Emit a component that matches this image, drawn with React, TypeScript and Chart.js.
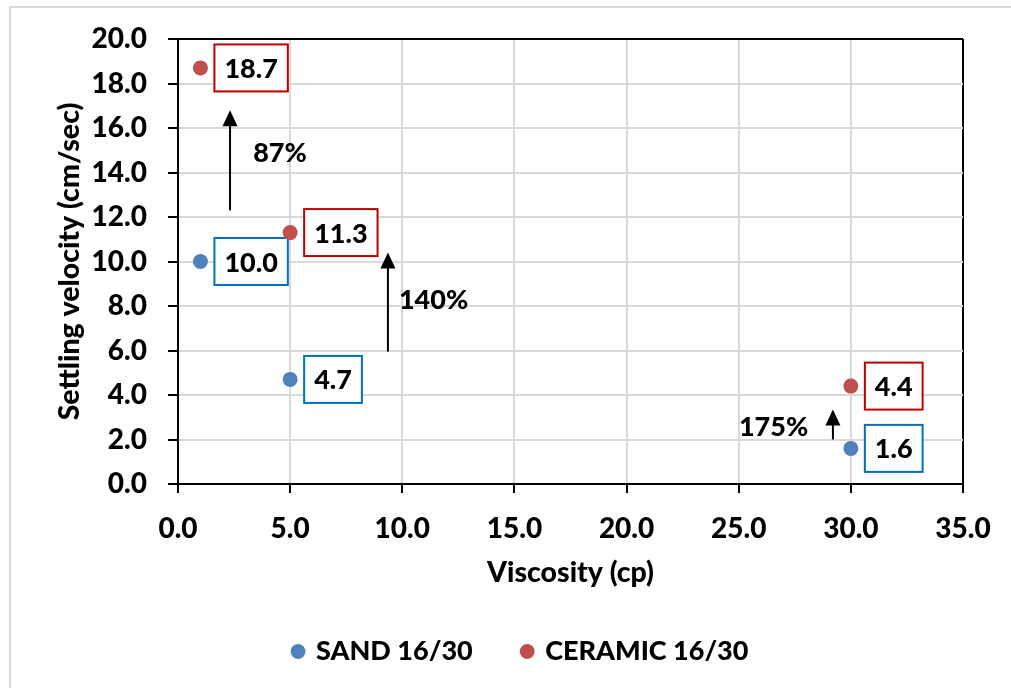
import { useEffect, useRef } from 'react';
import { Chart, registerables } from 'chart.js';

Chart.register(...registerables);

// ---- data ----
const viscosity = [1, 5, 30];
const sandVelocity = [10.0, 4.7, 1.6];
const ceramicVelocity = [18.7, 11.3, 4.4];
const seriesNames = ['SAND 16/30', 'CERAMIC 16/30'];
const xTitle = 'Viscosity (cp)';
const yTitle = 'Settling velocity (cm/sec)';

// annotation arrows (data units) and their texts
const arrowX = [2.32, 9.36, 29.2];
const arrowFrom = [12.3, 5.95, 2.0];
const arrowTo = [16.8, 10.4, 3.35];
const noteText = ['87%', '140%', '175%'];
const noteX = [3.35, 9.85, 28.1];
const noteY = [14.9, 8.3, 2.6];
const noteAlign = ['left', 'left', 'right'];

const FONT = 'Lato';
const WEIGHT = '900';
const SAND_COLOR = '#4F81BD';
const CERAMIC_COLOR = '#C0504D';
const SAND_BOX = '#0070C0';
const CERAMIC_BOX = '#C00000';

const framePlugin = {
  id: 'frame',
  beforeDraw(chart: any) {
    const ctx = chart.ctx;
    ctx.save();
    ctx.fillStyle = '#fff';
    ctx.fillRect(0, 0, chart.width, chart.height);
    ctx.strokeStyle = '#d9d9d9';
    ctx.lineWidth = 2;
    ctx.beginPath();
    ctx.moveTo(10, chart.height);
    ctx.lineTo(10, 7);
    ctx.lineTo(chart.width, 7);
    ctx.stroke();
    ctx.restore();
  },
};

const legendShift = {
  id: 'legendShift',
  afterLayout(chart: any) {
    const lg = chart.legend;
    if (lg) {
      lg.left = 79;
      lg.right = 963;
    }
  },
};

const boxLabels = {
  id: 'boxLabels',
  afterDatasetDraw(chart: any, args: any) {
    const ctx = chart.ctx;
    const meta = args.meta;
    const ds: any = chart.data.datasets[args.index];
    ctx.save();
    ctx.font = `${WEIGHT} 27px ${FONT}`;
    meta.data.forEach((pt: any, i: number) => {
      const txt = Number(ds.data[i].y).toFixed(1);
      const tw = ctx.measureText(txt).width;
      const w = tw + 20;
      const h = 47;
      const x0 = pt.x + 14;
      const y0 = pt.y - h / 2;
      ctx.fillStyle = '#fff';
      ctx.fillRect(x0, y0, w, h);
      ctx.strokeStyle = ds.labelBorder;
      ctx.lineWidth = 2;
      ctx.strokeRect(x0, y0, w, h);
      ctx.fillStyle = '#000';
      ctx.textAlign = 'center';
      ctx.textBaseline = 'alphabetic';
      ctx.fillText(txt, x0 + w / 2, pt.y + 10);
    });
    ctx.restore();
  },
};

const arrows = {
  id: 'arrows',
  afterDatasetsDraw(chart: any) {
    const ctx = chart.ctx;
    const xs = chart.scales.x;
    const ys = chart.scales.y;
    ctx.save();
    ctx.strokeStyle = '#000';
    ctx.fillStyle = '#000';
    ctx.lineWidth = 2;
    arrowX.forEach((xv, i) => {
      const x = xs.getPixelForValue(xv);
      const y1 = ys.getPixelForValue(arrowFrom[i]);
      const y2 = ys.getPixelForValue(arrowTo[i]);
      ctx.beginPath();
      ctx.moveTo(x, y1);
      ctx.lineTo(x, y2 + 12);
      ctx.stroke();
      ctx.beginPath();
      ctx.moveTo(x, y2);
      ctx.lineTo(x - 7.5, y2 + 16);
      ctx.lineTo(x + 7.5, y2 + 16);
      ctx.closePath();
      ctx.fill();
    });
    ctx.font = `${WEIGHT} 27px ${FONT}`;
    ctx.textBaseline = 'alphabetic';
    noteText.forEach((t, i) => {
      ctx.textAlign = noteAlign[i] as CanvasTextAlign;
      ctx.fillText(t, xs.getPixelForValue(noteX[i]), ys.getPixelForValue(noteY[i]) + 10);
    });
    ctx.restore();
  },
};

export default function App() {
  const ref = useRef<HTMLCanvasElement>(null);
  useEffect(() => {
    const tickFont = { family: FONT, size: 28, weight: WEIGHT as any };
    const titleFont = { family: FONT, size: 28.5, weight: WEIGHT as any, lineHeight: 0.8 };
    const legendFont = { family: FONT, size: 27, weight: WEIGHT as any };
    const chart = new Chart(ref.current as HTMLCanvasElement, {
      type: 'scatter',
      data: {
        datasets: [
          {
            label: seriesNames[0],
            data: viscosity.map((x, i) => ({ x, y: sandVelocity[i] })),
            backgroundColor: SAND_COLOR,
            borderColor: SAND_COLOR,
            borderWidth: 0,
            pointRadius: 7.5,
            pointHoverRadius: 7.5,
            order: 1,
            labelBorder: SAND_BOX,
          } as any,
          {
            label: seriesNames[1],
            data: viscosity.map((x, i) => ({ x, y: ceramicVelocity[i] })),
            backgroundColor: CERAMIC_COLOR,
            borderColor: CERAMIC_COLOR,
            borderWidth: 0,
            pointRadius: 7.5,
            pointHoverRadius: 7.5,
            order: 0,
            labelBorder: CERAMIC_BOX,
          } as any,
        ],
      },
      options: {
        responsive: false,
        animation: false,
        events: [],
        layout: { padding: { left: 9, right: 48, top: 39, bottom: 13 } },
        scales: {
          x: {
            type: 'linear',
            min: 0,
            max: 35,
            afterFit: (s: any) => {
              s.height = 104;
            },
            ticks: {
              stepSize: 5,
              autoSkip: false,
              maxRotation: 0,
              padding: 19,
              color: '#000',
              font: tickFont,
              callback: (v: any) => Number(v).toFixed(1),
            },
            grid: {
              color: (c: any) => (c.tick && c.tick.value === 35 ? '#000' : '#d9d9d9'),
              lineWidth: 2,
              tickColor: '#000',
              tickLength: 9,
              tickWidth: 2,
            },
            border: { color: '#000', width: 2 },
            title: {
              display: true,
              text: xTitle,
              color: '#000',
              font: titleFont,
              padding: { top: 0, bottom: 4 },
            },
          },
          y: {
            type: 'linear',
            min: 0,
            max: 20,
            afterFit: (s: any) => {
              s.width = 169;
            },
            ticks: {
              stepSize: 2,
              padding: 21,
              color: '#000',
              font: tickFont,
              callback: (v: any) => Number(v).toFixed(1),
            },
            grid: {
              color: (c: any) => (c.tick && c.tick.value === 20 ? '#000' : '#d9d9d9'),
              lineWidth: 2,
              tickColor: '#000',
              tickLength: 10,
              tickWidth: 2,
            },
            border: { color: '#000', width: 2 },
            title: {
              display: true,
              text: yTitle,
              color: '#000',
              font: titleFont,
              padding: { top: 49, bottom: 0 },
            },
          },
        },
        plugins: {
          tooltip: { enabled: false },
          legend: {
            position: 'bottom',
            align: 'center',
            labels: {
              usePointStyle: true,
              pointStyle: 'circle',
              boxWidth: 9,
              boxHeight: 10.5,
              padding: 50,
              color: '#000',
              font: legendFont,
              sort: (a: any, b: any) => a.datasetIndex - b.datasetIndex,
            },
          },
        },
      },
      plugins: [framePlugin, legendShift, boxLabels, arrows],
    });
    return () => chart.destroy();
  }, []);
  return (
    <div style={{ position: 'absolute', left: 0, top: 0, width: 1011, height: 688, background: '#fff' }}>
      <canvas ref={ref} width={1011} height={688} style={{ display: 'block' }} />
    </div>
  );
}
